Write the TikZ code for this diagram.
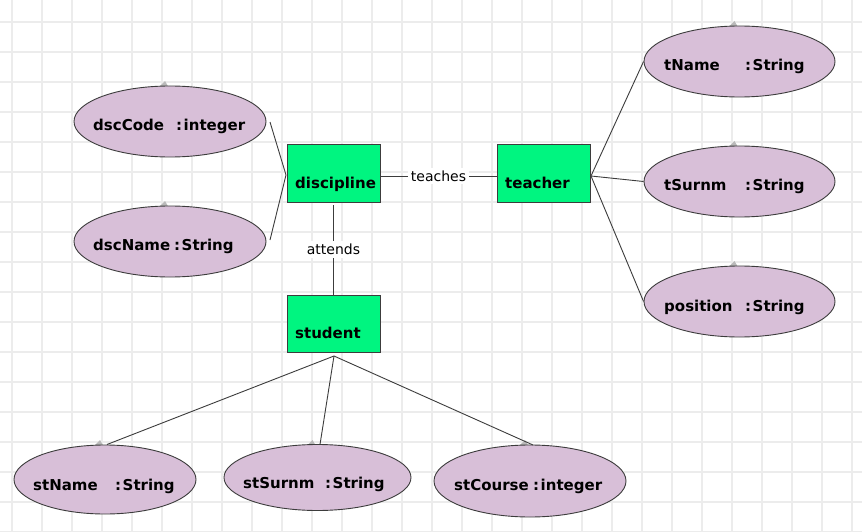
\documentclass[tikz,border=0pt]{standalone}
\usepackage{fontspec}
\setmainfont{DejaVu Sans}
\usetikzlibrary{shapes.geometric}
\definecolor{entgreen}{RGB}{0,245,128}
\definecolor{attrfill}{RGB}{216,191,216}
\definecolor{gridcol}{RGB}{236,236,236}
\definecolor{edgecol}{RGB}{60,60,60}
\tikzset{
  entity/.style={draw=edgecol, line width=1pt, fill=entgreen, rectangle, inner sep=0pt, minimum width=93pt, minimum height=57pt},
  attr/.style={draw=edgecol, line width=0.9pt, fill=attrfill, ellipse, inner sep=0pt},
  etext/.style={font=\fontsize{15pt}{17pt}\selectfont\bfseries, inner sep=0pt, anchor=base west},
  atext/.style={font=\fontsize{15pt}{17pt}\selectfont\bfseries, inner sep=0pt, anchor=base west},
  rlabel/.style={font=\fontsize{14pt}{16pt}\selectfont, fill=white, inner sep=3pt},
  conn/.style={draw=edgecol, line width=0.9pt},
  notch/.style={fill=gray!55, draw=none}
}
\begin{document}
\begin{tikzpicture}[x=1pt, y=-1pt]
\useasboundingbox (0,0) rectangle (862,532);
\fill[white] (0,0) rectangle (862,532);
% grid
\foreach \gx in {12,42,...,852} \draw[gridcol, line width=1.4pt] (\gx,0) -- (\gx,532);
\foreach \gy in {22,52,...,532} \draw[gridcol, line width=1.4pt] (0,\gy) -- (862,\gy);

% notches on top of ellipses
\foreach \cx/\ty in {170/86,170/206,739.5/26,739.5/146,739.5/266,105/445,317.5/445,530/445}
  \fill[notch] (\cx-5,\ty-5) -- (\cx-12,\ty+2) -- (\cx-1,\ty+2) -- cycle;

% attribute ellipses
\node[attr, minimum width=192pt, minimum height=71pt] (dscCode) at (170,121.5) {};
\node[attr, minimum width=192pt, minimum height=71pt] (dscName) at (170,241.5) {};
\node[attr, minimum width=191pt, minimum height=71pt] (tName) at (739.5,61.5) {};
\node[attr, minimum width=191pt, minimum height=71pt] (tSurnm) at (739.5,181.5) {};
\node[attr, minimum width=191pt, minimum height=71pt] (position) at (739.5,301.5) {};
\node[attr, minimum width=182pt, minimum height=69pt] (stName) at (105,479.5) {};
\node[attr, minimum width=187pt, minimum height=66pt] (stSurnm) at (317.5,477.5) {};
\node[attr, minimum width=192pt, minimum height=72pt] (stCourse) at (530,481) {};

% attribute texts
\node[atext] (dscCodeN) at (93,130.5) {dscCode};
\node[atext] (dscCodeT) at (176,130.5) {:\hspace{1.5pt}integer};
\node[atext] (dscNameN) at (93,250.5) {dscName};
\node[atext] (dscNameT) at (174,250.5) {:\hspace{1.5pt}String};
\node[atext] (tNameN) at (664,70.5) {tName};
\node[atext] (tNameT) at (745,70.5) {:\hspace{1.5pt}String};
\node[atext] (tSurnmN) at (664,190.5) {tSurnm};
\node[atext] (tSurnmT) at (745,190.5) {:\hspace{1.5pt}String};
\node[atext] (positionN) at (664,311) {position};
\node[atext] (positionT) at (745,311) {:\hspace{1.5pt}String};
\node[atext] (stNameN) at (33,490.5) {stName};
\node[atext] (stNameT) at (115,490.5) {:\hspace{1.5pt}String};
\node[atext] (stSurnmN) at (243,488.5) {stSurnm};
\node[atext] (stSurnmT) at (325,488.5) {:\hspace{1.5pt}String};
\node[atext] (stCourseN) at (454,490.5) {stCourse};
\node[atext] (stCourseT) at (533,490.5) {:\hspace{1.5pt}integer};

% entities
\node[entity] (discipline) at (333.5,173.5) {};
\node[entity] (teacher) at (543.5,173.5) {};
\node[entity] (student) at (333.5,323.5) {};
\node[etext] (disciplineT) at (295,188.5) {discipline};
\node[etext] (teacherT) at (505,188.5) {teacher};
\node[etext] (studentT) at (295,338) {student};

% relationship connectors
\coordinate (dR) at (380,176);
\coordinate (tL) at (497,176);
\draw[conn] (dR) -- node[rlabel] (teaches) {teaches} (tL);
\coordinate (dB) at (333.5,205);
\draw[conn] (dB) -- node[rlabel] (attends) {attends} (student.north);

% attribute connectors
\coordinate (dscCodeE) at (270,122);
\coordinate (dscNameE) at (270,240);
\coordinate (dJ) at (286,175);
\draw[conn] (dscCodeE) -- (dJ) -- (dscNameE);
\coordinate (tJ) at (591,176);
\draw[conn] (tJ) -- (tName.west);
\draw[conn] (tJ) -- (tSurnm.west);
\draw[conn] (tJ) -- (position.west);
\coordinate (sJ) at (334,356);
\coordinate (stNameTop) at (107,444.5);
\coordinate (stSurnmTop) at (320,444.5);
\coordinate (stCourseTop) at (533,445);
\draw[conn] (sJ) -- (stNameTop);
\draw[conn] (sJ) -- (stSurnmTop);
\draw[conn] (sJ) -- (stCourseTop);
\end{tikzpicture}
\end{document}
